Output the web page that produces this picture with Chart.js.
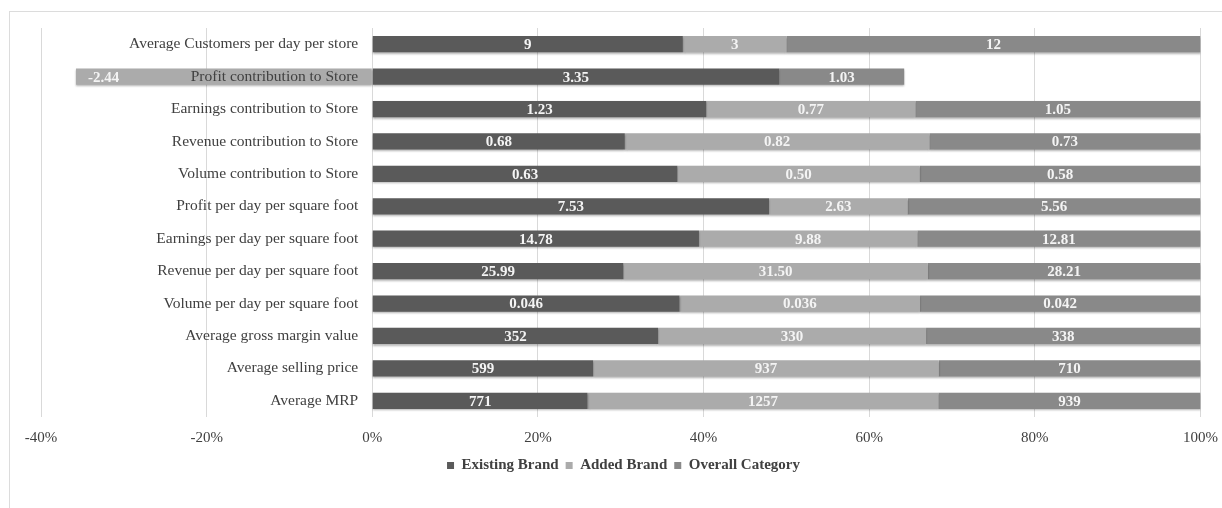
<!DOCTYPE html>
<html>
<head>
<meta charset="utf-8">
<script src="https://cdn.jsdelivr.net/npm/chart.js@4/dist/chart.umd.min.js"></script>
<style>
    html, body { margin: 0; padding: 0; background: #fff; overflow: hidden; }
    #frame {
        position: absolute; left: 9px; top: 11px; width: 1300px; height: 600px;
        border: 1px solid #dcdcdc;
    }
    #wrap { position: absolute; left: 0; top: 0; width: 1222px; height: 508px; }
</style>
</head>
<body>
<div id="frame"></div>
<div id="wrap"><canvas id="chart"></canvas></div>
<script>
// categories, top to bottom
const categories = [
    'Average Customers per day per store',
    'Profit contribution to Store',
    'Earnings contribution to Store',
    'Revenue contribution to Store',
    'Volume contribution to Store',
    'Profit per day per square foot',
    'Earnings per day per square foot',
    'Revenue per day per square foot',
    'Volume per day per square foot',
    'Average gross margin value',
    'Average selling price',
    'Average MRP'
];

const existingBrand = [9, 3.35, 1.23, 0.68, 0.63, 7.53, 14.78, 25.99, 0.046, 352, 599, 771];
const addedBrand    = [3, -2.44, 0.77, 0.82, 0.50, 2.63, 9.88, 31.50, 0.036, 330, 937, 1257];
const overallCat    = [12, 1.03, 1.05, 0.73, 0.58, 5.56, 12.81, 28.21, 0.042, 338, 710, 939];

// decimals shown in the value labels, per category
const decimals = [0, 2, 2, 2, 2, 2, 2, 2, 3, 0, 0, 0];

const xTicks = [-40, -20, 0, 20, 40, 60, 80, 100];

const seriesNames = ['Existing Brand', 'Added Brand', 'Overall Category'];
const seriesColors = ['#5a5a5a', '#ababab', '#898989'];

// 100% stacked: share of each value in the row total (by magnitude)
const rawSeries = [existingBrand, addedBrand, overallCat];
const rowTotals = categories.map((c, i) =>
    rawSeries.reduce((s, arr) => s + Math.abs(arr[i]), 0));
const pctSeries = rawSeries.map(arr => arr.map((v, i) => v / rowTotals[i] * 100));

const serif = "'Liberation Serif', 'DejaVu Serif', serif";

// light shadow under the bars
const barShadow = {
    id: 'barShadow',
    beforeDatasetsDraw(chart) {
        const ctx = chart.ctx;
        ctx.save();
        ctx.shadowColor = 'rgba(0,0,0,0.3)';
        ctx.shadowBlur = 2;
        ctx.shadowOffsetY = 1.5;
    },
    afterDatasetsDraw(chart) {
        chart.ctx.restore();
    }
};

// value labels inside the bars
const valueLabels = {
    id: 'valueLabels',
    afterDatasetsDraw(chart) {
        const ctx = chart.ctx;
        ctx.save();
        ctx.font = 'bold 15px ' + serif;
        ctx.fillStyle = '#f4f4f4';
        ctx.textBaseline = 'middle';
        chart.data.datasets.forEach((ds, di) => {
            const meta = chart.getDatasetMeta(di);
            meta.data.forEach((bar, i) => {
                const v = rawSeries[di][i];
                const text = v.toFixed(decimals[i]);
                if (v < 0) {
                    ctx.textAlign = 'left';
                    ctx.fillText(text, Math.min(bar.x, bar.base) + 12, bar.y + 1);
                } else {
                    ctx.textAlign = 'center';
                    ctx.fillText(text, (bar.x + bar.base) / 2, bar.y + 1);
                }
            });
        });
        ctx.restore();
    }
};

new Chart(document.getElementById('chart'), {
    type: 'bar',
    data: {
        labels: categories,
        datasets: seriesNames.map((name, k) => ({
            label: name,
            data: pctSeries[k],
            backgroundColor: seriesColors[k],
            borderWidth: 0,
            barPercentage: 0.5,
            categoryPercentage: 1
        }))
    },
    options: {
        indexAxis: 'y',
        responsive: true,
        maintainAspectRatio: false,
        animation: false,
        layout: {
            padding: { left: 41, right: 16, top: 28, bottom: 25 }
        },
        plugins: {
            legend: {
                position: 'bottom',
                labels: {
                    boxWidth: 7,
                    boxHeight: 7,
                    padding: 7,
                    color: '#404040',
                    font: { family: serif, size: 15, weight: 'bold' }
                }
            },
            tooltip: { enabled: false }
        },
        scales: {
            x: {
                stacked: true,
                min: -40,
                max: 100,
                afterBuildTicks: axis => {
                    axis.ticks = xTicks.map(v => ({ value: v }));
                },
                grid: {
                    color: '#d9d9d9',
                    tickLength: 8,
                    tickColor: 'rgba(0,0,0,0)'
                },
                border: { display: false },
                ticks: {
                    padding: 4,
                    color: '#404040',
                    font: { family: serif, size: 15 },
                    callback: v => v + '%'
                }
            },
            y: {
                stacked: true,
                // category labels sit just left of the 0% line, drawn over the bars
                position: { x: -1.7 },
                grid: { display: false },
                border: { display: false },
                ticks: {
                    z: 1,
                    color: '#404040',
                    font: { family: serif, size: 15.5 }
                }
            }
        }
    },
    plugins: [barShadow, valueLabels]
});
</script>
</body>
</html>
